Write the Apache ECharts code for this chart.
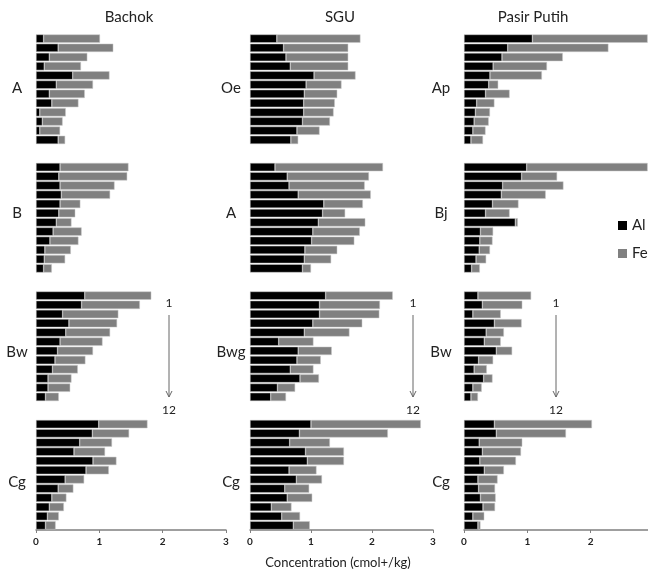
<!DOCTYPE html>
<html>
<head>
<meta charset="utf-8">
<script src="https://cdn.jsdelivr.net/npm/echarts@6/dist/echarts.min.js"></script>
<style>html,body{margin:0;padding:0;background:#fff}#c{width:648px;height:578px}</style>
</head>
<body>
<div id="c"></div>
<script>
const categories = ['1','2','3','4','5','6','7','8','9','10','11','12'];
const sites = ['Bachok', 'SGU', 'Pasir Putih'];
const horizons = [['A','B','Bw','Cg'], ['Oe','A','Bwg','Cg'], ['Ap','Bj','Bw','Cg']];
const xTicks = [0, 1, 2, 3];
const axisLabelText = 'Concentration (cmol+/kg)';

// Bachok
const bachokA_Al  = [0.12,0.35,0.21,0.13,0.58,0.32,0.21,0.25,0.06,0.10,0.06,0.35];
const bachokA_Fe  = [0.89,0.87,0.60,0.58,0.58,0.58,0.56,0.42,0.41,0.32,0.32,0.11];
const bachokB_Al  = [0.38,0.36,0.38,0.40,0.38,0.36,0.32,0.27,0.22,0.14,0.13,0.12];
const bachokB_Fe  = [1.08,1.08,0.86,0.77,0.32,0.26,0.24,0.45,0.45,0.41,0.33,0.13];
const bachokBw_Al = [0.77,0.72,0.42,0.52,0.47,0.38,0.34,0.30,0.26,0.19,0.19,0.15];
const bachokBw_Fe = [1.05,0.92,0.88,0.76,0.70,0.67,0.56,0.48,0.40,0.37,0.35,0.21];
const bachokCg_Al = [0.99,0.89,0.69,0.60,0.90,0.79,0.46,0.35,0.25,0.21,0.18,0.15];
const bachokCg_Fe = [0.77,0.58,0.51,0.49,0.37,0.36,0.30,0.24,0.23,0.23,0.18,0.16];
// SGU
const sguOe_Al  = [0.44,0.55,0.59,0.66,1.05,0.92,0.89,0.88,0.88,0.86,0.77,0.67];
const sguOe_Fe  = [1.37,1.06,1.02,0.95,0.68,0.58,0.54,0.51,0.49,0.45,0.37,0.12];
const sguA_Al   = [0.41,0.61,0.64,0.79,1.21,1.19,1.12,1.03,1.01,0.90,0.89,0.86];
const sguA_Fe   = [1.77,1.34,1.24,1.19,0.64,0.37,0.77,0.77,0.70,0.53,0.44,0.14];
const sguBwg_Al = [1.24,1.14,1.14,1.03,0.89,0.47,0.79,0.77,0.66,0.82,0.45,0.34];
const sguBwg_Fe = [1.10,0.99,0.98,0.81,0.74,0.57,0.55,0.39,0.38,0.31,0.29,0.25];
const sguCg_Al  = [1.00,0.81,0.65,0.91,0.94,0.64,0.76,0.57,0.61,0.35,0.52,0.71];
const sguCg_Fe  = [1.80,1.45,0.66,0.63,0.60,0.45,0.42,0.40,0.41,0.33,0.30,0.27];
// Pasir Putih
const ppAp_Al = [1.08,0.69,0.60,0.46,0.41,0.39,0.34,0.20,0.18,0.16,0.14,0.11];
const ppAp_Fe = [1.82,1.59,0.96,0.85,0.82,0.15,0.38,0.28,0.23,0.23,0.20,0.19];
const ppBj_Al = [0.99,0.91,0.61,0.59,0.45,0.34,0.81,0.26,0.25,0.24,0.19,0.12];
const ppBj_Fe = [1.91,0.56,0.96,0.70,0.41,0.38,0.04,0.20,0.20,0.17,0.16,0.13];
const ppBw_Al = [0.22,0.29,0.14,0.48,0.35,0.32,0.51,0.23,0.16,0.31,0.14,0.11];
const ppBw_Fe = [0.84,0.63,0.44,0.43,0.28,0.26,0.25,0.23,0.20,0.14,0.14,0.11];
const ppCg_Al = [0.48,0.51,0.24,0.29,0.25,0.32,0.22,0.23,0.26,0.30,0.14,0.22];
const ppCg_Fe = [1.54,1.10,0.68,0.61,0.57,0.31,0.31,0.26,0.24,0.19,0.18,0.04];

const panels = [
  [[bachokA_Al,bachokA_Fe],[bachokB_Al,bachokB_Fe],[bachokBw_Al,bachokBw_Fe],[bachokCg_Al,bachokCg_Fe]],
  [[sguOe_Al,sguOe_Fe],[sguA_Al,sguA_Fe],[sguBwg_Al,sguBwg_Fe],[sguCg_Al,sguCg_Fe]],
  [[ppAp_Al,ppAp_Fe],[ppBj_Al,ppBj_Fe],[ppBw_Al,ppBw_Fe],[ppCg_Al,ppCg_Fe]]
];

const FONT = 'Lato';
const colLeft = [36, 250, 464];
const colWidth = [190, 183, 190];
const rowTop = [34, 162.5, 291, 419.5];
const rowHeight = 110.5;
const titleX = [129, 340, 533];
const rowLabelX = [17, 231, 441];
const rowLabelY = [88, 213, 352, 482];
const arrowX = [169, 413, 556];

const grids = [], xAxes = [], yAxes = [], series = [], graphics = [];
let gi = 0;
for (let c = 0; c < 3; c++) {
  for (let r = 0; r < 4; r++) {
    grids.push({left: colLeft[c], top: rowTop[r], width: colWidth[c], height: rowHeight,
      containLabel: false, outerBoundsMode: 'none'});
    const showX = r === 3;
    xAxes.push({
      gridIndex: gi, type: 'value', min: xTicks[0], max: xTicks[xTicks.length-1], interval: 1,
      show: showX,
      axisLine: {show: true, lineStyle: {color: '#808080', width: 1.5}},
      axisTick: {show: true, length: 3, lineStyle: {color: '#808080', width: 1}},
      axisLabel: {fontSize: 10, fontWeight: 'bold', color: '#222', margin: 7, fontFamily: FONT},
      splitLine: {show: false}
    });
    yAxes.push({gridIndex: gi, type: 'category', data: categories, inverse: true, show: false});
    const [al, fe] = panels[c][r];
    series.push({
      name: 'Al', type: 'bar', stack: 's' + gi, xAxisIndex: gi, yAxisIndex: gi, data: al,
      barCategoryGap: '10%', itemStyle: {color: '#000000', borderColor: '#c8c8c8', borderWidth: 0.5},
      silent: true
    });
    series.push({
      name: 'Fe', type: 'bar', stack: 's' + gi, xAxisIndex: gi, yAxisIndex: gi, data: fe,
      barCategoryGap: '10%', itemStyle: {color: '#808080', borderColor: '#c8c8c8', borderWidth: 0.5},
      silent: true
    });
    graphics.push({type: 'text', x: rowLabelX[c], y: rowLabelY[r], style: {
      text: horizons[c][r], font: '15px ' + FONT, fill: '#222', textAlign: 'center', textVerticalAlign: 'middle'}});
    gi++;
  }
  graphics.push({type: 'text', x: titleX[c], y: 17, style: {
    text: sites[c], font: '15px ' + FONT, fill: '#222', textAlign: 'center', textVerticalAlign: 'middle'}});
  // arrow 1 -> 12
  const ax = arrowX[c];
  graphics.push({type: 'text', x: ax, y: 303, style: {text: categories[0], font: '12px ' + FONT, fill: '#222', textAlign: 'center', textVerticalAlign: 'middle'}});
  graphics.push({type: 'text', x: ax, y: 410, style: {text: categories[11], font: '12px ' + FONT, fill: '#222', textAlign: 'center', textVerticalAlign: 'middle'}});
  graphics.push({type: 'line', shape: {x1: ax, y1: 315, x2: ax, y2: 397}, style: {stroke: '#666', lineWidth: 1}});
  graphics.push({type: 'polyline', shape: {points: [[ax-3, 391], [ax, 397], [ax+3, 391]]}, style: {stroke: '#666', lineWidth: 1, fill: null}});
}
graphics.push({type: 'text', x: 338, y: 563, style: {text: axisLabelText, font: '13px ' + FONT, fill: '#222', textAlign: 'center', textVerticalAlign: 'middle'}});

const chart = echarts.init(document.getElementById('c'), null, {renderer: 'canvas'});
chart.setOption({
  animation: false,
  backgroundColor: '#ffffff',
  grid: grids, xAxis: xAxes, yAxis: yAxes, series: series,
  legend: {
    data: ['Al', 'Fe'], orient: 'vertical', left: 618, top: 218, padding: 0, itemWidth: 9, itemHeight: 9,
    itemGap: 13, icon: 'rect', selectedMode: false,
    itemStyle: {borderWidth: 0},
    textStyle: {fontSize: 15, fontFamily: FONT, color: '#222'}
  },
  graphic: graphics
});
</script>
</body>
</html>
